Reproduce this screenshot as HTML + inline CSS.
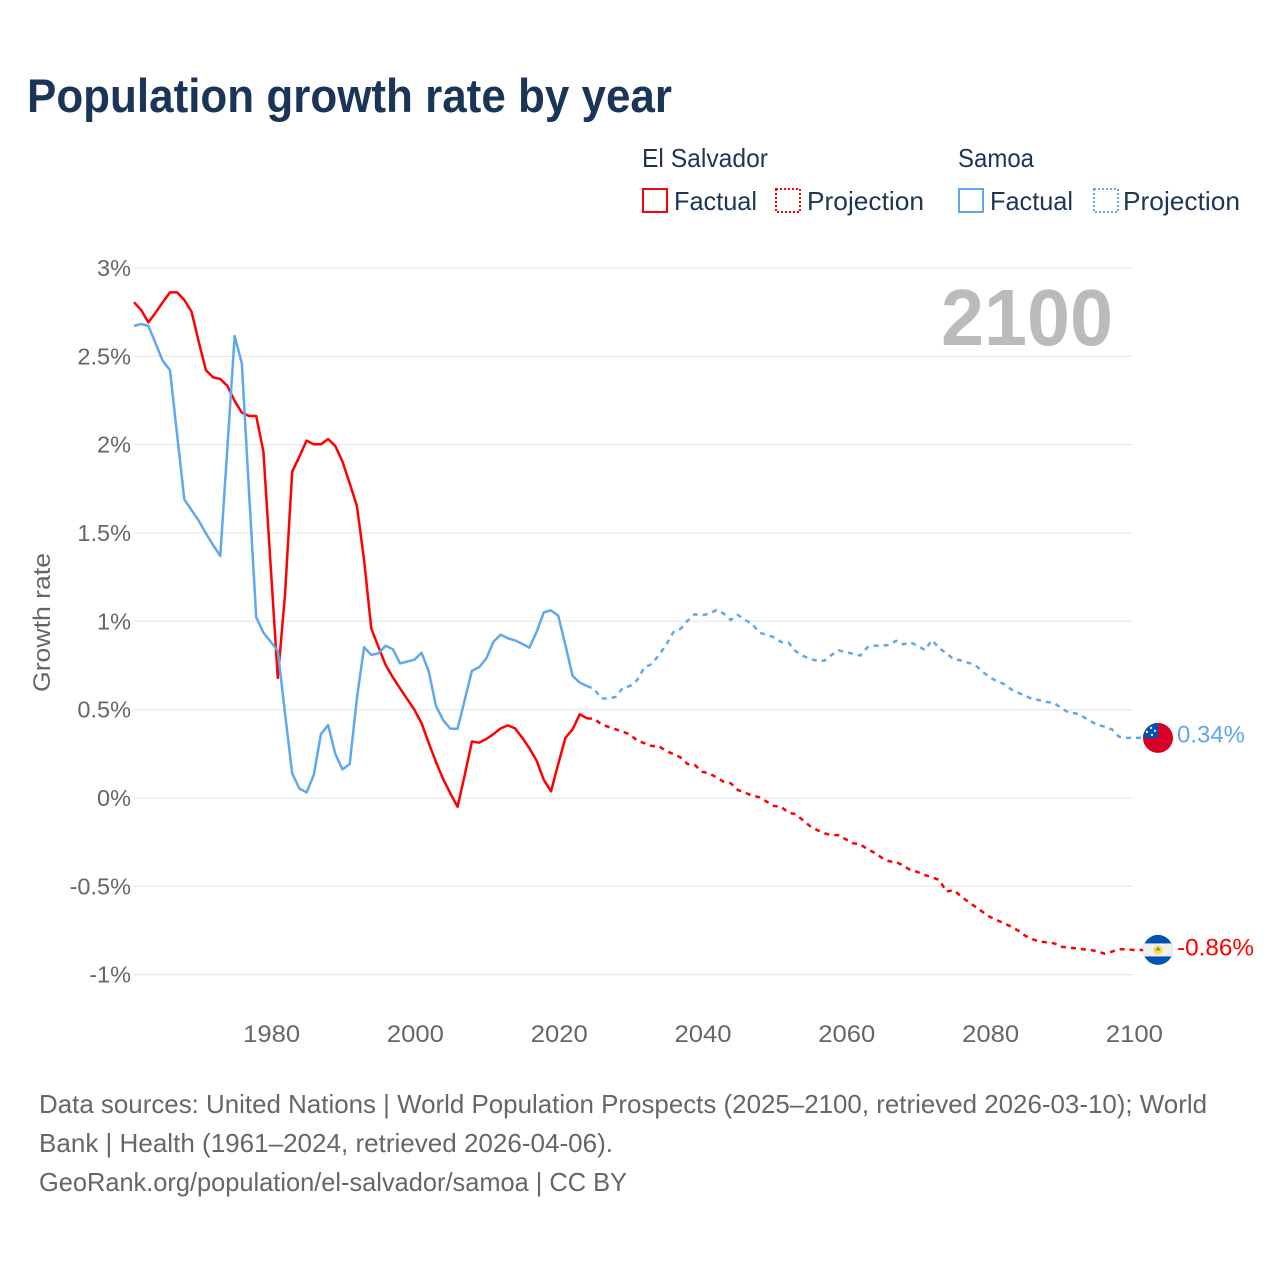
<!DOCTYPE html>
<html lang="en">
<head>
<meta charset="utf-8">
<title>Population growth rate by year</title>
<style>
html,body{margin:0;padding:0;background:#fff;width:1280px;height:1280px;overflow:hidden}
svg{display:block}
text{font-family:"Liberation Sans",sans-serif}
.grey{fill:#666}
.navy{fill:#1d3557}
</style>
</head>
<body>
<svg id="chart" xmlns="http://www.w3.org/2000/svg" width="1280" height="1280" viewBox="0 0 1280 1280">
  <defs>
    <clipPath id="flag-clip-samoa"><circle cx="0" cy="0" r="15"></circle></clipPath>
    <clipPath id="flag-clip-salvador"><circle cx="0" cy="0" r="15"></circle></clipPath>
  </defs>
  <rect width="1280" height="1280" fill="#fff"></rect>
  <text x="27" y="112" font-size="47" font-weight="700" fill="#1a3557" textLength="645" lengthAdjust="spacingAndGlyphs">Population growth rate by year</text>

  <g>
    <text class="navy" x="642" y="167" font-size="26" textLength="126" lengthAdjust="spacingAndGlyphs">El Salvador</text>
    <text class="navy" x="958" y="167" font-size="26" textLength="76" lengthAdjust="spacingAndGlyphs">Samoa</text>
    <rect x="643" y="189" width="24" height="23" fill="#fff" stroke="#ff0000" stroke-width="2"></rect>
    <text class="navy" x="674" y="210" font-size="26" textLength="83" lengthAdjust="spacingAndGlyphs">Factual</text>
    <rect x="776" y="189" width="24" height="23" fill="#fff" stroke="#ff0000" stroke-width="2" stroke-dasharray="2 2"></rect>
    <text class="navy" x="807" y="210" font-size="26" textLength="117" lengthAdjust="spacingAndGlyphs">Projection</text>
    <rect x="959" y="189" width="24" height="23" fill="#fff" stroke="#5fa8ee" stroke-width="2"></rect>
    <text class="navy" x="990" y="210" font-size="26" textLength="83" lengthAdjust="spacingAndGlyphs">Factual</text>
    <rect x="1094" y="189" width="24" height="23" fill="#fff" stroke="#5fa8ee" stroke-width="2" stroke-dasharray="2 2"></rect>
    <text class="navy" x="1123" y="210" font-size="26" textLength="117" lengthAdjust="spacingAndGlyphs">Projection</text>
  </g>

  <g id="grid"></g>
  <g id="y-ticks"></g>
  <g id="x-ticks"></g>
  <text class="grey" transform="translate(50,692) rotate(-90)" font-size="24" textLength="139" lengthAdjust="spacingAndGlyphs">Growth rate</text>
  <text x="941" y="345" font-size="80" font-weight="700" fill="#bbbbbb" textLength="172" lengthAdjust="spacingAndGlyphs">2100</text>

  <g id="series"></g>

  <g id="flag-samoa">
    <g clip-path="url(#flag-clip-samoa)">
      <rect x="-15" y="-15" width="30" height="30" fill="#d80027"></rect>
      <rect x="-15" y="-15" width="15" height="15" fill="#0052b4"></rect>
      <circle cx="-7" cy="-10" r="1.2" fill="#f0f0f0"></circle>
      <circle cx="-11" cy="-6" r="1.2" fill="#f0f0f0"></circle>
      <circle cx="-3" cy="-7" r="1.2" fill="#f0f0f0"></circle>
      <circle cx="-6" cy="-3" r="1.2" fill="#f0f0f0"></circle>
    </g>
  </g>
  <g id="flag-salvador">
    <g clip-path="url(#flag-clip-salvador)">
      <rect x="-15" y="-15" width="30" height="30" fill="#0052b4"></rect>
      <rect x="-15" y="-6.5" width="30" height="13" fill="#f0f0f0"></rect>
      <circle cx="0" cy="0" r="4.5" fill="#ffda44"></circle>
      <path d="M-3 0.5 L0 -3 L3 0.5 Z" fill="#6da544"></path>
    </g>
  </g>
  <text id="value-samoa" x="1177" font-size="24" fill="#5fa8ee" textLength="68" lengthAdjust="spacingAndGlyphs"></text>
  <text id="value-salvador" x="1177" font-size="24" fill="#ff0000" textLength="77" lengthAdjust="spacingAndGlyphs"></text>

  <g>
    <text class="grey" x="39" y="1113" font-size="26" textLength="1168" lengthAdjust="spacingAndGlyphs">Data sources: United Nations | World Population Prospects (2025–2100, retrieved 2026-03-10); World</text>
    <text class="grey" x="39" y="1152" font-size="26" textLength="574" lengthAdjust="spacingAndGlyphs">Bank | Health (1961–2024, retrieved 2026-04-06).</text>
    <text class="grey" x="39" y="1191" font-size="26" textLength="588" lengthAdjust="spacingAndGlyphs">GeoRank.org/population/el-salvador/samoa | CC BY</text>
  </g>
</svg>
<script>
// Chart data: factual series begin in 1961, projection series begin in 2024 (joined to the factual end)
const factualStartYear = 1961;
const projectionStartYear = 2024;
const xTickYears = [1980, 2000, 2020, 2040, 2060, 2080, 2100];
const yTickValues = [3, 2.5, 2, 1.5, 1, 0.5, 0, -0.5, -1];
const yTickLabels = ['3%', '2.5%', '2%', '1.5%', '1%', '0.5%', '0%', '-0.5%', '-1%'];
const elSalvadorFactual = [2.806,2.762,2.692,2.747,2.806,2.862,2.862,2.819,2.753,2.583,2.422,2.381,2.372,2.332,2.247,2.181,2.162,2.162,1.96,1.32,0.68,1.149,1.847,1.932,2.023,2.002,2.002,2.032,1.992,1.904,1.781,1.653,1.347,0.96,0.855,0.753,0.683,0.62,0.56,0.5,0.423,0.31,0.204,0.107,0.026,-0.05,0.13,0.32,0.313,0.334,0.362,0.394,0.411,0.394,0.341,0.281,0.211,0.102,0.038,0.192,0.341,0.389,0.474,0.451];
const elSalvadorProjection = [0.451,0.449,0.417,0.402,0.389,0.375,0.36,0.324,0.31,0.294,0.294,0.266,0.249,0.23,0.192,0.187,0.149,0.14,0.117,0.092,0.083,0.045,0.03,0.013,0.004,-0.021,-0.045,-0.049,-0.083,-0.091,-0.125,-0.158,-0.181,-0.2,-0.209,-0.211,-0.234,-0.256,-0.262,-0.289,-0.31,-0.338,-0.358,-0.362,-0.383,-0.408,-0.419,-0.436,-0.449,-0.464,-0.53,-0.521,-0.555,-0.587,-0.615,-0.644,-0.672,-0.691,-0.709,-0.728,-0.751,-0.781,-0.8,-0.813,-0.817,-0.823,-0.842,-0.847,-0.851,-0.856,-0.86,-0.868,-0.881,-0.87,-0.856,-0.856,-0.86];
const samoaFactual = [2.672,2.683,2.672,2.574,2.474,2.422,2.055,1.69,1.63,1.57,1.498,1.432,1.37,1.99,2.615,2.46,1.73,1.023,0.936,0.885,0.834,0.479,0.14,0.053,0.032,0.13,0.362,0.413,0.249,0.162,0.192,0.564,0.853,0.81,0.819,0.862,0.842,0.762,0.772,0.783,0.822,0.715,0.521,0.441,0.392,0.392,0.555,0.72,0.74,0.79,0.885,0.924,0.904,0.892,0.872,0.851,0.941,1.051,1.062,1.032,0.866,0.691,0.653,0.634];
const samoaProjection = [0.634,0.617,0.564,0.562,0.573,0.624,0.634,0.668,0.74,0.758,0.809,0.866,0.938,0.957,1.004,1.04,1.034,1.043,1.064,1.045,1.008,1.036,1.008,0.983,0.936,0.923,0.91,0.883,0.881,0.832,0.806,0.787,0.777,0.777,0.809,0.836,0.825,0.817,0.806,0.853,0.862,0.862,0.866,0.89,0.87,0.881,0.86,0.838,0.894,0.847,0.819,0.785,0.779,0.766,0.753,0.715,0.683,0.662,0.645,0.615,0.596,0.577,0.56,0.553,0.543,0.538,0.508,0.483,0.479,0.46,0.436,0.413,0.404,0.389,0.347,0.341,0.34];

const NS = 'http://www.w3.org/2000/svg';
const xScale = year => 134 + (year - factualStartYear) * 7.19;
const yScale = value => 798 - value * 176.67;

function makeEl(tag, parent) {
  const el = document.createElementNS(NS, tag);
  parent.appendChild(el);
  return el;
}

const gridGroup = document.getElementById('grid');
const yTickGroup = document.getElementById('y-ticks');
const xTickGroup = document.getElementById('x-ticks');
const seriesGroup = document.getElementById('series');

yTickValues.forEach((value, i) => {
  const line = makeEl('line', gridGroup);
  
  
  line.setAttribute('x1', 134);
  line.setAttribute('x2', 1133);
  line.setAttribute('y1', yScale(value));
  line.setAttribute('y2', yScale(value));
  line.setAttribute('stroke', '#e9e9e9');
  line.setAttribute('stroke-width', 1.3);

  const label = makeEl('text', yTickGroup);
  
  
  label.setAttribute('class', 'grey');
  label.setAttribute('x', 131);
  label.setAttribute('y', yScale(value) + 8);
  label.setAttribute('text-anchor', 'end');
  label.setAttribute('font-size', 23.5);
  label.textContent = yTickLabels[i];
});

xTickYears.forEach(year => {
  const label = makeEl('text', xTickGroup);
  
  
  label.setAttribute('class', 'grey');
  label.setAttribute('x', xScale(year) + 1);
  label.setAttribute('y', 1042);
  label.setAttribute('text-anchor', 'middle');
  label.setAttribute('font-size', 24);
  label.setAttribute('textLength', 57);
  label.setAttribute('lengthAdjust', 'spacingAndGlyphs');
  label.textContent = String(year);
});

function linePoints(values, startYear, leader) {
  const pts = values.map((v, i) => xScale(startYear + i).toFixed(2) + ',' + yScale(v).toFixed(2));
  if (leader) {
    pts.push((xScale(startYear + values.length - 1) + 24).toFixed(2) + ',' + yScale(values[values.length - 1]).toFixed(2));
  }
  return pts.join(' ');
}

const salvadorFactualLine = makeEl('polyline', seriesGroup);


salvadorFactualLine.setAttribute('points', linePoints(elSalvadorFactual, factualStartYear, false));
salvadorFactualLine.setAttribute('fill', 'none');
salvadorFactualLine.setAttribute('stroke', '#ff0000');
salvadorFactualLine.setAttribute('stroke-width', 2.5);
salvadorFactualLine.setAttribute('stroke-linejoin', 'round');

const salvadorProjectionLine = makeEl('polyline', seriesGroup);


salvadorProjectionLine.setAttribute('points', linePoints(elSalvadorProjection, projectionStartYear, true));
salvadorProjectionLine.setAttribute('fill', 'none');
salvadorProjectionLine.setAttribute('stroke', '#ff0000');
salvadorProjectionLine.setAttribute('stroke-width', 2.5);
salvadorProjectionLine.setAttribute('stroke-dasharray', '5 5');

const samoaFactualLine = makeEl('polyline', seriesGroup);


samoaFactualLine.setAttribute('points', linePoints(samoaFactual, factualStartYear, false));
samoaFactualLine.setAttribute('fill', 'none');
samoaFactualLine.setAttribute('stroke', '#5fa8ee');
samoaFactualLine.setAttribute('stroke-width', 2.5);
samoaFactualLine.setAttribute('stroke-linejoin', 'round');

const samoaProjectionLine = makeEl('polyline', seriesGroup);


samoaProjectionLine.setAttribute('points', linePoints(samoaProjection, projectionStartYear, true));
samoaProjectionLine.setAttribute('fill', 'none');
samoaProjectionLine.setAttribute('stroke', '#5fa8ee');
samoaProjectionLine.setAttribute('stroke-width', 2.5);
samoaProjectionLine.setAttribute('stroke-dasharray', '5 5');

const samoaEnd = samoaProjection[samoaProjection.length - 1];
const salvadorEnd = elSalvadorProjection[elSalvadorProjection.length - 1];
document.getElementById('flag-samoa').setAttribute('transform', 'translate(1158,' + yScale(samoaEnd) + ')');
document.getElementById('flag-salvador').setAttribute('transform', 'translate(1158,' + yScale(salvadorEnd) + ')');
const samoaValue = document.getElementById('value-samoa');
samoaValue.setAttribute('y', yScale(samoaEnd) + 4.5);
samoaValue.textContent = samoaEnd.toFixed(2) + '%';
const salvadorValue = document.getElementById('value-salvador');
salvadorValue.setAttribute('y', yScale(salvadorEnd) + 5.5);
salvadorValue.textContent = salvadorEnd.toFixed(2) + '%';
</script>
</body>
</html>
